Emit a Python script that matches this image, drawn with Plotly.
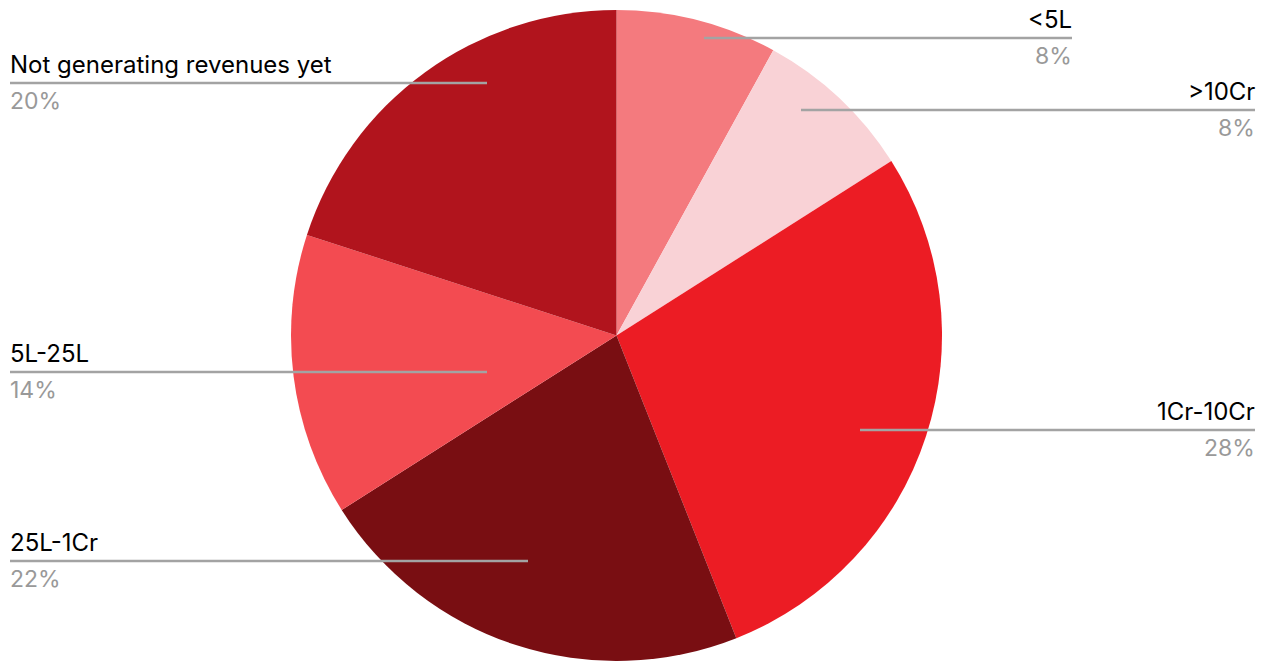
import plotly.graph_objects as go

# Revenue bands (clockwise from 12 o'clock) and their share of respondents
categories = ["<5L", ">10Cr", "1Cr-10Cr", "25L-1Cr", "5L-25L", "Not generating revenues yet"]
shares = [8, 8, 28, 22, 14, 20]
colors = ["#F47A7E", "#F9D2D6", "#EC1C24", "#790E12", "#F34B51", "#B1141D"]

W, H = 1269, 661

# Callout placement in pixels: (side, leader-line y, inner x, outer x)
callouts = {
    "<5L": ("right", 38, 704, 1072),
    ">10Cr": ("right", 110, 801, 1255),
    "1Cr-10Cr": ("right", 430, 860, 1255),
    "25L-1Cr": ("left", 561, 528, 10),
    "5L-25L": ("left", 372, 487, 10),
    "Not generating revenues yet": ("left", 83, 487, 10),
}

FONT = "Inter"
TEXT_PAD = 2  # annotation box padding around the text


def px(x):
    return x / W


def py(y):
    return 1 - y / H


fig = go.Figure(
    go.Pie(
        labels=categories,
        values=shares,
        sort=False,
        direction="clockwise",
        rotation=0,
        marker=dict(colors=colors, line=dict(width=0)),
        textinfo="none",
        hoverinfo="label+percent",
        domain=dict(x=[0, 2 * 616.5 / W], y=[0, 1 - 10 / H]),
        showlegend=False,
    )
)

shapes = []
annotations = []
for cat, val in zip(categories, shares):
    side, ly, x_in, x_out = callouts[cat]
    shapes.append(
        dict(
            type="line", xref="paper", yref="paper",
            x0=px(x_in), x1=px(x_out), y0=py(ly), y1=py(ly),
            line=dict(color="#A3A3A3", width=2.5),
        )
    )
    anchor = "right" if side == "right" else "left"
    tx = x_out + TEXT_PAD if side == "right" else x_out - TEXT_PAD
    annotations.append(
        dict(
            text=cat, xref="paper", yref="paper",
            x=px(tx), y=py(ly - 2), xanchor=anchor, yanchor="bottom",
            showarrow=False, align=anchor,
            font=dict(family=FONT, size=24, color="#000000"),
        )
    )
    annotations.append(
        dict(
            text=f"{val}%", xref="paper", yref="paper",
            x=px(tx), y=py(ly + 2), xanchor=anchor, yanchor="top",
            showarrow=False, align=anchor,
            font=dict(family=FONT, size=23, color="#999999"),
        )
    )

fig.update_layout(
    width=W,
    height=H,
    margin=dict(l=0, r=0, t=0, b=0),
    paper_bgcolor="#FFFFFF",
    plot_bgcolor="#FFFFFF",
    shapes=shapes,
    annotations=annotations,
)

fig.write_html("out.html")
